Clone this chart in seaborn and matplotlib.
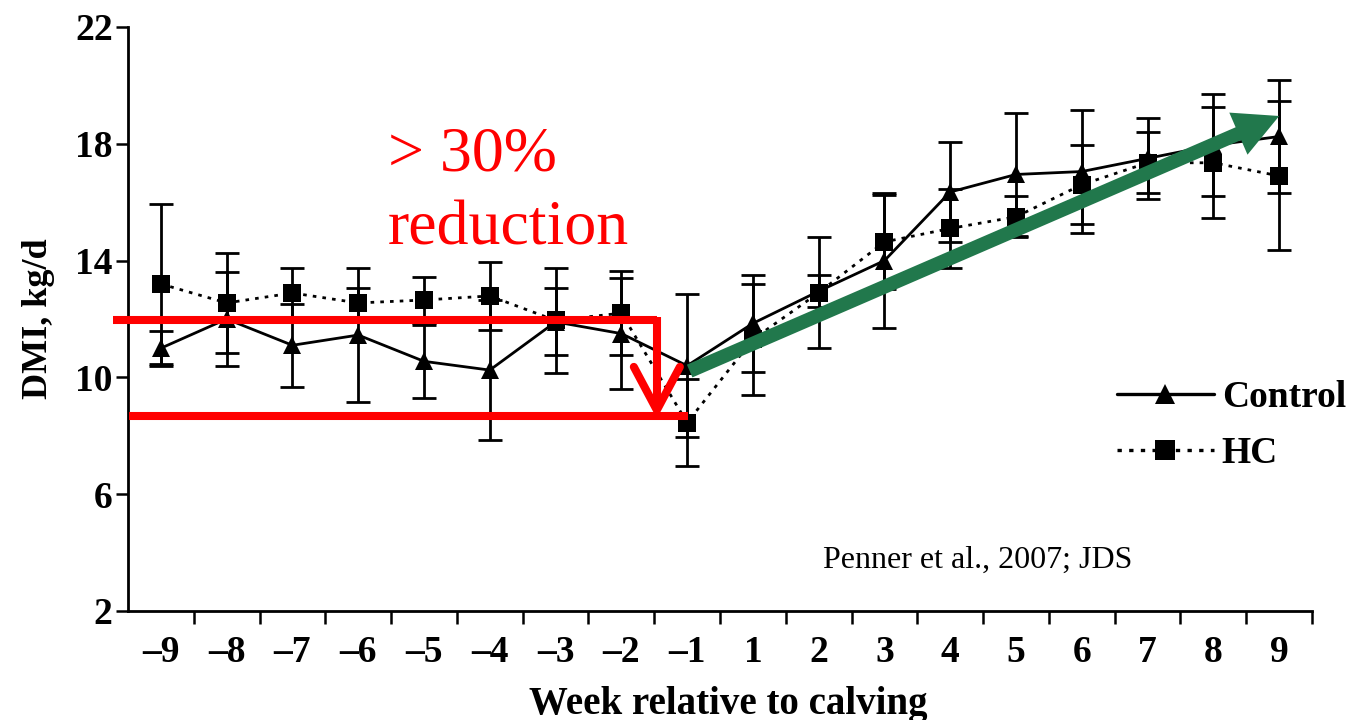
import numpy as np
import pandas as pd
import matplotlib
matplotlib.use("Agg")
import matplotlib.pyplot as plt
from matplotlib.patches import FancyArrowPatch
import seaborn as sns

# Weekly dry matter intake (kg/d) around calving, mean and SE per treatment
weeks = ["–9", "–8", "–7", "–6", "–5", "–4", "–3", "–2", "–1",
         "1", "2", "3", "4", "5", "6", "7", "8", "9"]
control_mean = [11.0, 12.0, 11.1, 11.45, 10.55, 10.25, 11.9, 11.5, 10.4,
                11.85, 12.95, 14.0, 16.35, 16.95, 17.05, 17.5, 17.95, 18.25]
control_se = [0.6, 1.6, 1.43, 2.3, 1.25, 2.4, 1.15, 1.9, 2.45,
              1.65, 0.55, 2.3, 1.7, 2.1, 2.1, 1.4, 1.75, 1.95]
hc_mean = [13.2, 12.55, 12.89, 12.55, 12.65, 12.79, 11.95, 12.2, 8.45,
           11.3, 12.9, 14.64, 15.1, 15.5, 16.6, 17.35, 17.35, 16.9]
hc_se = [2.75, 1.7, 0.86, 0.5, 0.8, 1.16, 1.8, 1.45, 1.5,
         1.9, 1.9, 1.6, 1.35, 0.7, 1.35, 1.05, 1.9, 2.55]
groups = ["Control", "HC"]
y_ticks = [2, 6, 10, 14, 18, 22]

# Annotation levels: pre-calving intake level and the drop at week -1
drop_high = 11.97
drop_low = 8.68
rise_start = (8.0, 10.18)
rise_end = (17.04, 18.99)

RED = "#FF0000"
GREEN = "#21784C"

sns.set_theme(style="ticks")
plt.rcParams["font.family"] = ["Liberation Serif", "DejaVu Serif"]
for key in ["text.color", "axes.labelcolor", "xtick.color", "ytick.color",
            "axes.edgecolor"]:
    plt.rcParams[key] = "black"

pos = np.arange(len(weeks))
df = pd.DataFrame({
    "pos": np.concatenate([pos, pos]),
    "dmi": control_mean + hc_mean,
    "se": control_se + hc_se,
    "group": ["Control"] * len(weeks) + ["HC"] * len(weeks),
})

fig = plt.figure(figsize=(13.53, 7.2), dpi=100)
ax = fig.add_axes([0.0946, 0.1514, 0.8751, 0.8111])

sns.lineplot(data=df, x="pos", y="dmi", hue="group", style="group",
             palette={"Control": "black", "HC": "black"},
             markers={"Control": "^", "HC": "s"},
             dashes={"Control": "", "HC": (1.3, 2.2)},
             markersize=13, markeredgewidth=0, linewidth=2.0,
             sort=False, ax=ax, legend=True, zorder=3)

for g in groups:
    sub = df[df["group"] == g]
    ax.errorbar(sub["pos"], sub["dmi"], yerr=sub["se"], fmt="none",
                ecolor="black", elinewidth=2.0, capsize=8.5, capthick=2.0,
                zorder=2)

# Axes styling
ax.set_xlim(-0.5, len(weeks) - 0.5)
ax.set_ylim(2, 22)
ax.set_yticks(y_ticks)
ax.set_yticklabels([str(v) for v in y_ticks], fontweight="bold", fontsize=27)
ax.set_xticks(pos + 0.5)
ax.set_xticklabels([""] * len(weeks))
ax.set_xticks(pos, minor=True)
ax.set_xticklabels(weeks, minor=True, fontweight="bold", fontsize=27)
ax.tick_params(axis="x", which="major", length=9, width=1.8, direction="out")
ax.tick_params(axis="x", which="minor", length=0, pad=17)
ax.tick_params(axis="y", length=9, width=1.8, direction="out", pad=2)
for side in ["top", "right"]:
    ax.spines[side].set_visible(False)
for side in ["left", "bottom"]:
    ax.spines[side].set_linewidth(2.0)
ax.grid(False)

ax.set_xlabel("Week relative to calving", fontweight="bold", fontsize=28)
ax.set_ylabel("DMI, kg/d", fontweight="bold", fontsize=26)
ax.xaxis.set_label_coords(0.507, -0.128)
ax.yaxis.set_label_coords(-0.062, 0.5)

# Legend
old = ax.get_legend()
handles = list(old.legend_handles)
labels = [t.get_text() for t in old.texts]
old.remove()
keep = [(h, l) for h, l in zip(handles, labels) if l in groups]
for h, _ in keep:
    h.set_linewidth(2.4)
    h.set_markersize(14)
ax.legend([h for h, _ in keep], [l for _, l in keep],
          loc="upper left", bbox_to_anchor=(0.835, 0.395), frameon=False,
          prop={"weight": "bold", "size": 27}, handlelength=2.6,
          handletextpad=0.2, labelspacing=0.55, borderpad=0,
          borderaxespad=0)

# Red bracket showing the intake drop before calving
ax.plot([-0.73, 7.54], [drop_high, drop_high], color=RED, lw=5.8,
        solid_capstyle="butt", clip_on=False, zorder=5)
ax.plot([-0.485, 8.01], [drop_low, drop_low], color=RED, lw=5.8,
        solid_capstyle="butt", clip_on=False, zorder=5)
ax.plot([7.54, 7.54], [drop_high + 0.1, 8.95], color=RED, lw=5.8,
        solid_capstyle="butt", zorder=5)
ax.plot([7.19, 7.54, 7.89], [10.36, 8.88, 10.36], color=RED, lw=5.8,
        solid_joinstyle="miter", solid_capstyle="round", zorder=5)

# Green arrow showing the post-calving recovery
arrow = FancyArrowPatch(rise_start, rise_end,
                        arrowstyle="simple,head_length=32,head_width=33,tail_width=10",
                        mutation_scale=1, color=GREEN, lw=0, zorder=6)
ax.add_patch(arrow)

# Text annotations
ax.text(3.45, 17.1, "> 30%", color=RED, fontsize=46, ha="left",
        va="baseline", family=["Liberation Serif"])
ax.text(3.45, 14.55, "reduction", color=RED, fontsize=46, ha="left",
        va="baseline", family=["Liberation Serif"])
ax.text(10.06, 3.47, "Penner et al., 2007; JDS", color="black", fontsize=23,
        ha="left", va="baseline", family=["Liberation Serif"])

fig.savefig("out.png", dpi=100)
